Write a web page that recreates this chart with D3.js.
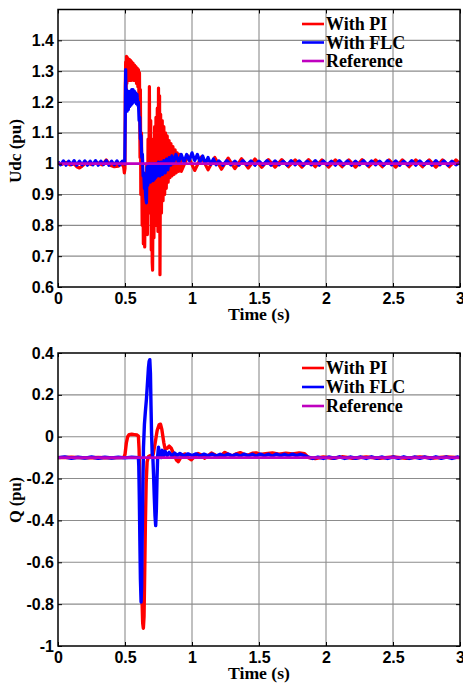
<!DOCTYPE html>
<html>
<head>
<meta charset="utf-8">
<script src="https://cdn.jsdelivr.net/npm/d3@7"></script>
<style>
    body { margin: 0; background: #fff; }
    svg { display: block; }
</style>
</head>
<body>
<div id="chart"></div>
<script>

//******************************************************************************
//**  Data
//******************************************************************************
var timeTicks = [0, 0.5, 1, 1.5, 2, 2.5, 3];
var udcTicks = [0.6, 0.7, 0.8, 0.9, 1, 1.1, 1.2, 1.3, 1.4];
var qTicks = [-1, -0.8, -0.6, -0.4, -0.2, 0, 0.2, 0.4];
var legendNames = ["With PI", "With FLC", "Reference"];

// DC link voltage, PI controller  [time (s), Udc (pu)]
var udcPI = [
    [0.00,1.002],[0.03,0.998],[0.06,1.004],[0.09,0.996],[0.12,1.0],[0.14,0.99],[0.16,0.986],[0.18,0.992],
    [0.21,1.003],[0.25,0.997],[0.29,1.004],[0.33,0.996],[0.36,1.012],[0.39,0.995],[0.42,0.99],[0.45,0.992],
    [0.47,1.003],[0.49,0.99],[0.495,0.97],[0.50,0.985],
    [0.502,1.25],[0.505,1.33],[0.508,1.23],[0.511,1.348],[0.514,1.26],[0.517,1.345],[0.521,1.27],[0.525,1.34],
    [0.529,1.27],[0.533,1.338],[0.537,1.28],[0.541,1.335],[0.546,1.27],[0.551,1.33],[0.556,1.275],[0.561,1.325],
    [0.566,1.27],[0.571,1.32],[0.576,1.27],[0.581,1.315],[0.586,1.26],[0.591,1.31],[0.596,1.25],[0.600,1.305],
    [0.604,1.22],[0.608,1.295],
    [0.612,1.02],[0.615,1.24],[0.618,0.90],[0.623,1.10],[0.628,0.80],[0.633,0.96],[0.637,0.74],[0.642,0.92],
    [0.647,0.73],[0.652,0.94],[0.657,0.78],[0.662,1.0],[0.667,0.77],[0.672,1.08],[0.677,0.84],[0.682,1.25],
    [0.687,0.86],[0.692,1.14],[0.696,0.72],[0.700,1.08],[0.703,0.68],[0.706,0.655],[0.711,1.04],[0.716,0.76],
    [0.721,1.12],[0.726,0.80],[0.731,1.15],[0.736,0.80],[0.741,1.18],[0.746,0.78],[0.750,1.245],[0.754,0.87],
    [0.758,1.22],[0.761,0.64],[0.766,1.16],[0.772,0.84],[0.778,1.14],[0.784,0.88],[0.790,1.12],[0.796,0.90],
    [0.802,1.10],[0.808,0.92],[0.815,1.09],[0.822,0.94],[0.829,1.075],[0.836,0.955],[0.843,1.065],[0.850,0.96],
    [0.858,1.055],[0.866,0.965],[0.874,1.045],[0.882,0.97],[0.890,1.035],[0.900,0.975],[0.910,1.03],
    [0.92,0.975],[0.97,1.025],[1.02,0.978],[1.07,1.022],[1.12,0.98],[1.17,1.02],[1.22,0.982],[1.27,1.018],
    [1.32,0.984],[1.37,1.016],[1.42,0.986],[1.47,1.015],[1.52,0.988],[1.57,1.013],[1.62,0.989],[1.67,1.013],
    [1.72,0.99],[1.77,1.012],[1.82,0.989],[1.87,1.013],[1.92,0.99],[1.97,1.012],[2.02,0.989],[2.07,1.012],
    [2.12,0.99],[2.17,1.012],[2.22,0.989],[2.27,1.013],[2.32,0.99],[2.37,1.012],[2.42,0.99],[2.47,1.012],
    [2.52,0.989],[2.57,1.012],[2.62,0.99],[2.67,1.012],[2.72,0.99],[2.77,1.012],[2.82,0.989],[2.87,1.012],
    [2.92,0.99],[2.97,1.012],[3.0,1.0]
];

// DC link voltage, fuzzy logic controller
var udcFLC = [
    [0.00,1.006],[0.02,0.996],[0.04,1.009],[0.06,0.995],[0.08,1.008],[0.10,0.997],[0.12,1.01],[0.14,0.995],
    [0.16,1.008],[0.18,0.996],[0.20,1.009],[0.22,0.995],[0.24,1.008],[0.26,0.996],[0.28,1.01],[0.30,0.995],
    [0.32,1.008],[0.34,0.997],[0.36,1.01],[0.38,0.995],[0.40,1.008],[0.42,0.996],[0.44,1.009],[0.46,0.995],
    [0.48,1.008],[0.498,0.999],
    [0.502,1.15],[0.505,1.305],[0.508,1.17],[0.512,1.24],[0.516,1.17],[0.520,1.235],[0.525,1.175],[0.530,1.23],
    [0.535,1.185],[0.540,1.235],[0.545,1.19],[0.550,1.24],[0.555,1.195],[0.560,1.24],[0.565,1.2],[0.570,1.235],
    [0.575,1.2],[0.580,1.23],[0.585,1.195],[0.590,1.225],[0.595,1.19],[0.600,1.2],[0.605,1.14],[0.610,1.15],
    [0.615,1.08],[0.620,1.09],[0.625,1.02],[0.630,1.03],[0.635,0.96],[0.640,0.97],[0.645,0.92],[0.650,0.93],
    [0.655,0.89],[0.660,0.873],[0.665,0.99],[0.670,0.93],[0.675,0.995],[0.680,0.95],[0.685,1.0],[0.690,0.94],
    [0.695,0.99],[0.700,0.95],[0.705,1.0],[0.710,0.945],[0.715,0.995],[0.720,0.95],[0.725,1.0],[0.730,0.955],
    [0.735,1.0],[0.740,0.96],[0.750,1.005],[0.760,0.96],[0.770,1.005],[0.780,0.965],[0.790,1.01],[0.800,0.97],
    [0.810,1.015],[0.820,0.98],[0.830,1.02],[0.840,0.995],[0.850,1.025],[0.860,1.0],[0.880,1.03],[0.900,1.005],
    [0.920,1.03],[0.940,1.005],[0.960,1.03],[0.980,1.01],[1.000,1.035],[1.020,1.01],[1.040,1.03],[1.060,1.005],
    [1.080,1.025],[1.100,1.0],[1.120,1.02],[1.140,0.998],[1.160,1.015],[1.180,0.996],
    [1.20,1.009],[1.23,0.995],[1.26,1.01],[1.29,0.996],[1.32,1.008],[1.35,0.995],[1.38,1.01],[1.41,0.996],
    [1.44,1.009],[1.47,0.995],[1.50,1.008],[1.53,0.996],[1.56,1.01],[1.59,0.995],[1.62,1.009],[1.65,0.996],
    [1.68,1.008],[1.71,0.995],[1.74,1.01],[1.77,0.996],[1.80,1.009],[1.83,0.995],[1.86,1.008],[1.89,0.996],
    [1.92,1.01],[1.95,0.995],[1.98,1.009],[2.01,0.996],[2.04,1.008],[2.07,0.995],[2.10,1.01],[2.13,0.996],
    [2.16,1.009],[2.19,0.995],[2.22,1.008],[2.25,0.996],[2.28,1.01],[2.31,0.995],[2.34,1.009],[2.37,0.996],
    [2.40,1.008],[2.43,0.995],[2.46,1.01],[2.49,0.996],[2.52,1.009],[2.55,0.995],[2.58,1.008],[2.61,0.996],
    [2.64,1.01],[2.67,0.995],[2.70,1.009],[2.73,0.996],[2.76,1.008],[2.79,0.995],[2.82,1.01],[2.85,0.996],
    [2.88,1.009],[2.91,0.995],[2.94,1.008],[2.97,0.996],[3.00,1.004]
];

var udcRef = [[0, 1], [3, 1]];

// Reactive power, PI controller  [time (s), Q (pu)]
var qPI = [
    [0,-0.1],[0.1,-0.098],[0.2,-0.101],[0.3,-0.099],[0.4,-0.101],[0.49,-0.1],[0.50,-0.085],[0.51,-0.03],
    [0.52,0.0],[0.53,0.01],[0.55,0.012],[0.57,0.01],[0.59,0.008],[0.60,0.003],[0.605,-0.06],[0.61,-0.2],
    [0.615,-0.38],[0.62,-0.56],[0.626,-0.76],[0.632,-0.89],[0.637,-0.915],[0.642,-0.86],[0.647,-0.65],[0.652,-0.42],
    [0.658,-0.22],[0.665,-0.12],[0.675,-0.095],[0.69,-0.09],[0.71,-0.085],[0.725,-0.03],[0.74,0.03],[0.755,0.058],
    [0.765,0.06],[0.775,0.035],[0.79,-0.03],[0.80,-0.06],[0.815,-0.055],[0.83,-0.045],[0.845,-0.055],[0.865,-0.085],
    [0.885,-0.112],[0.898,-0.119],[0.915,-0.1],[0.935,-0.085],[0.95,-0.082],[0.97,-0.1],[0.995,-0.11],[1.02,-0.095],
    [1.045,-0.08],[1.07,-0.088],[1.095,-0.103],[1.12,-0.09],[1.145,-0.078],[1.17,-0.086],[1.195,-0.098],[1.22,-0.088],
    [1.245,-0.075],[1.27,-0.084],[1.30,-0.092],[1.33,-0.082],[1.36,-0.076],[1.39,-0.085],[1.42,-0.088],[1.45,-0.079],
    [1.48,-0.077],[1.51,-0.085],[1.55,-0.081],[1.60,-0.077],[1.65,-0.083],[1.70,-0.079],[1.75,-0.082],[1.80,-0.078],
    [1.84,-0.081],[1.87,-0.1],[1.92,-0.104],[1.98,-0.097],[2.05,-0.103],[2.12,-0.096],[2.20,-0.103],[2.30,-0.097],
    [2.40,-0.103],[2.50,-0.097],[2.60,-0.103],[2.70,-0.097],[2.80,-0.102],[2.90,-0.097],[3.0,-0.1]
];

// Reactive power, fuzzy logic controller
var qFLC = [
    [0,-0.1],[0.05,-0.097],[0.1,-0.103],[0.15,-0.098],[0.2,-0.102],[0.25,-0.097],[0.3,-0.103],[0.35,-0.098],
    [0.4,-0.102],[0.45,-0.098],[0.5,-0.101],[0.55,-0.098],[0.6,-0.1],[0.603,-0.14],[0.607,-0.3],[0.611,-0.5],
    [0.615,-0.68],[0.62,-0.79],[0.624,-0.72],[0.628,-0.5],[0.633,-0.25],[0.638,-0.05],[0.645,0.06],[0.652,0.12],
    [0.66,0.18],[0.668,0.26],[0.675,0.33],[0.68,0.36],[0.685,0.368],[0.69,0.3],[0.694,0.15],[0.698,0.02],
    [0.703,-0.08],[0.708,-0.1],[0.713,-0.18],[0.718,-0.28],[0.724,-0.38],[0.729,-0.425],[0.734,-0.35],[0.739,-0.2],
    [0.744,-0.09],[0.75,-0.05],[0.756,-0.08],[0.762,-0.07],[0.77,-0.1],[0.778,-0.065],[0.788,-0.09],[0.80,-0.07],
    [0.815,-0.09],[0.83,-0.075],[0.85,-0.092],[0.87,-0.078],[0.89,-0.09],[0.91,-0.08],[0.94,-0.092],[0.97,-0.082],
    [1.0,-0.09],[1.03,-0.082],[1.06,-0.092],[1.09,-0.083],[1.12,-0.091],[1.15,-0.083],[1.18,-0.092],[1.21,-0.084],
    [1.24,-0.091],[1.27,-0.083],[1.30,-0.091],[1.33,-0.084],[1.36,-0.092],[1.39,-0.083],[1.42,-0.091],[1.45,-0.084],
    [1.48,-0.092],[1.51,-0.083],[1.54,-0.091],[1.57,-0.084],[1.60,-0.092],[1.63,-0.083],[1.66,-0.09],[1.69,-0.084],
    [1.72,-0.091],[1.75,-0.083],[1.78,-0.09],[1.81,-0.084],[1.84,-0.09],[1.87,-0.098],[1.90,-0.104],[1.94,-0.097],
    [1.98,-0.104],[2.02,-0.097],[2.06,-0.103],[2.10,-0.096],[2.14,-0.104],[2.18,-0.097],[2.22,-0.103],[2.26,-0.097],
    [2.30,-0.104],[2.34,-0.096],[2.38,-0.103],[2.42,-0.097],[2.46,-0.104],[2.50,-0.097],[2.54,-0.103],[2.58,-0.096],
    [2.62,-0.104],[2.66,-0.097],[2.70,-0.103],[2.74,-0.097],[2.78,-0.104],[2.82,-0.096],[2.86,-0.103],[2.90,-0.097],
    [2.94,-0.104],[2.98,-0.097],[3.0,-0.1]
];

var qRef = [[0, -0.1], [3, -0.1]];


//******************************************************************************
//**  Layout
//******************************************************************************
var width = 463, height = 683;
var left = 58, right = 460;
var colors = { pi: "#ff0000", flc: "#0000ff", ref: "#bf00bf" };
var tickFont = "'Liberation Sans', Arial, sans-serif";
var labelFont = "'Liberation Serif', 'Times New Roman', serif";

var svg = d3.select("#chart").append("svg")
    .attr("width", width)
    .attr("height", height);


//******************************************************************************
//**  drawPanel
//******************************************************************************
var drawPanel = function(p){

    var g = svg.append("g");

    var x = d3.scaleLinear().domain([0, 3]).range([left, right]);
    var y = d3.scaleLinear().domain(p.yDomain).range([p.bottom, p.top]);

  //Grid lines
    g.selectAll(".vgrid")
        .data(timeTicks.slice(1, -1))
        .enter()
        .append("line")
        .attr("x1", function(d){ return x(d); })
        .attr("x2", function(d){ return x(d); })
        .attr("y1", p.top)
        .attr("y2", p.bottom)
        .attr("stroke", "#8c8c8c")
        .attr("stroke-width", 1.1);

    g.selectAll(".hgrid")
        .data(p.yTicks.filter(function(d){ return d !== p.yDomain[0] && d !== p.yDomain[1]; }))
        .enter()
        .append("line")
        .attr("x1", left)
        .attr("x2", right)
        .attr("y1", function(d){ return y(d); })
        .attr("y2", function(d){ return y(d); })
        .attr("stroke", "#8c8c8c")
        .attr("stroke-width", 1.1);

  //Clip
    var clipId = "clip" + p.id;
    g.append("clipPath").attr("id", clipId)
        .append("rect")
        .attr("x", left).attr("y", p.top)
        .attr("width", right - left).attr("height", p.bottom - p.top);

  //Lines
    var line = d3.line()
        .x(function(d){ return x(d[0]); })
        .y(function(d){ return y(d[1]); });

    var plot = g.append("g").attr("clip-path", "url(#" + clipId + ")");
    p.series.forEach(function(s){
        plot.append("path")
            .datum(s.data)
            .attr("d", line)
            .attr("fill", "none")
            .attr("stroke", s.color)
            .attr("stroke-width", s.width)
            .attr("stroke-linejoin", "round");
    });

  //Axes
    var styleAxis = function(a){
        a.select(".domain").remove();
        a.selectAll(".tick line").attr("stroke", "#000").attr("stroke-width", 1);
        a.selectAll("text")
            .attr("fill", "#000")
            .style("font-family", tickFont)
            .style("font-weight", "bold")
            .style("font-size", "16px");
    };

    g.append("g")
        .attr("transform", "translate(0," + p.bottom + ")")
        .call(d3.axisBottom(x).tickValues(timeTicks).tickSize(-4).tickPadding(6).tickFormat(String))
        .call(styleAxis);

    g.append("g")
        .attr("transform", "translate(0," + p.top + ")")
        .call(d3.axisTop(x).tickValues(timeTicks).tickSize(-4).tickFormat(""))
        .call(styleAxis);

    g.append("g")
        .attr("transform", "translate(" + left + ",0)")
        .call(d3.axisLeft(y).tickValues(p.yTicks).tickSize(-4).tickPadding(4).tickFormat(String))
        .call(styleAxis);

    g.append("g")
        .attr("transform", "translate(" + right + ",0)")
        .call(d3.axisRight(y).tickValues(p.yTicks).tickSize(-4).tickFormat(""))
        .call(styleAxis);

  //Frame
    g.append("rect")
        .attr("x", left).attr("y", p.top)
        .attr("width", right - left).attr("height", p.bottom - p.top)
        .attr("fill", "none")
        .attr("stroke", "#000")
        .attr("stroke-width", 1.5);

  //Axis titles
    g.append("text")
        .attr("x", (left + right) / 2)
        .attr("y", p.bottom + 33)
        .attr("text-anchor", "middle")
        .attr("textLength", 62)
        .attr("lengthAdjust", "spacingAndGlyphs")
        .style("font-family", labelFont)
        .style("font-weight", "bold")
        .style("font-size", "16px")
        .text("Time (s)");

    g.append("text")
        .attr("transform", "translate(21," + p.labelY + ") rotate(-90)")
        .attr("text-anchor", "middle")
        .attr("textLength", p.labelLength)
        .attr("lengthAdjust", "spacingAndGlyphs")
        .style("font-family", labelFont)
        .style("font-weight", "bold")
        .style("font-size", "16px")
        .text(p.yLabel);

  //Legend
    var legend = g.selectAll(".legend")
        .data(p.series)
        .enter()
        .append("g")
        .attr("transform", function(d, i){ return "translate(302," + p.legendY[i] + ")"; });

    legend.append("line")
        .attr("x1", 0).attr("x2", 22)
        .attr("y1", 0).attr("y2", 0)
        .attr("stroke", function(d){ return d.color; })
        .attr("stroke-width", 2.6);

    legend.append("text")
        .attr("x", 24)
        .attr("y", 6)
        .style("font-family", labelFont)
        .style("font-weight", "bold")
        .style("font-size", "18px")
        .text(function(d){ return d.name; });
};


//******************************************************************************
//**  Render
//******************************************************************************
drawPanel({
    id: "udc",
    top: 9.5, bottom: 287,
    yDomain: [0.6, 1.5],
    yTicks: udcTicks,
    yLabel: "Udc (pu)", labelY: 151, labelLength: 64,
    legendY: [24, 42.5, 61],
    series: [
        { name: legendNames[0], data: udcPI, color: colors.pi, width: 3.2 },
        { name: legendNames[1], data: udcFLC, color: colors.flc, width: 3.2 },
        { name: legendNames[2], data: udcRef, color: colors.ref, width: 2.6 }
    ]
});

drawPanel({
    id: "q",
    top: 353, bottom: 646,
    yDomain: [-1, 0.4],
    yTicks: qTicks,
    yLabel: "Q (pu)", labelY: 500, labelLength: 46,
    legendY: [368, 387, 406],
    series: [
        { name: legendNames[0], data: qPI, color: colors.pi, width: 3.4 },
        { name: legendNames[1], data: qFLC, color: colors.flc, width: 3.4 },
        { name: legendNames[2], data: qRef, color: colors.ref, width: 2.6 }
    ]
});

</script>
</body>
</html>
